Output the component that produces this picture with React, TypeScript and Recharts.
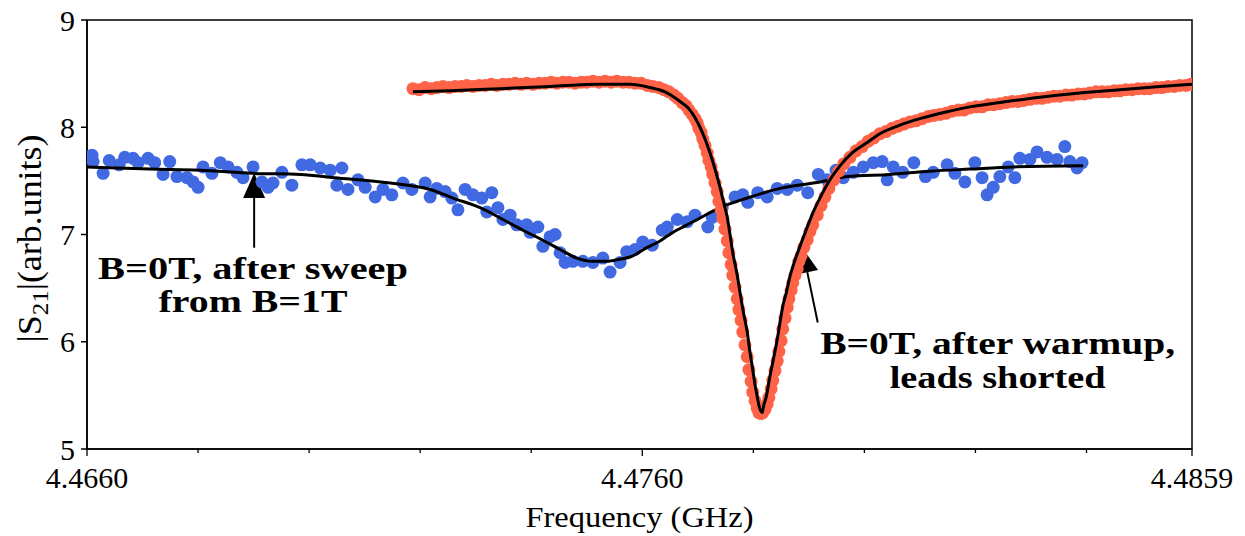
import { ComposedChart, Scatter, XAxis, YAxis, ReferenceArea, ReferenceLine, ReferenceDot } from 'recharts';

const FONT = 'Liberation Serif, DejaVu Serif, serif';

// frequency axis (GHz)
const freqTicks = [4.466, 4.468, 4.47, 4.472, 4.474, 4.476, 4.478, 4.48, 4.482, 4.484, 4.4859];
const freqMajor = [4.466, 4.476, 4.4859];
const freqLabels = ['4.4660', '4.4760', '4.4859'];
const s21Ticks = [5, 6, 7, 8, 9];

// B=0T after sweep from B=1T (blue)
const blueFreq = [
  4.46609, 4.46611, 4.46629, 4.46640, 4.46658, 4.46668, 4.46683, 4.46692, 4.46710, 4.46722,
  4.46737, 4.46749, 4.46762, 4.46780, 4.46791, 4.46800, 4.46809, 4.46825, 4.46840, 4.46854,
  4.46870, 4.46881, 4.46899, 4.46915, 4.46926, 4.46935, 4.46951, 4.46969, 4.46987, 4.47002,
  4.47020, 4.47038, 4.47050, 4.47059, 4.47070, 4.47088, 4.47101, 4.47119, 4.47133, 4.47149,
  4.47169, 4.47185, 4.47209, 4.47218, 4.47230, 4.47245, 4.47257, 4.47268, 4.47281, 4.47295,
  4.47311, 4.47320, 4.47329, 4.47340, 4.47349, 4.47362, 4.47374, 4.47392, 4.47398, 4.47412,
  4.47421, 4.47434, 4.47443, 4.47452, 4.47461, 4.47475, 4.47493, 4.47511, 4.47529, 4.47542,
  4.47560, 4.47572, 4.47587, 4.47601, 4.47618, 4.47636, 4.47645, 4.47663, 4.47681, 4.47695,
  4.47718, 4.47726, 4.47744, 4.47767, 4.47781, 4.47790, 4.47808, 4.47825, 4.47843, 4.47861,
  4.47879, 4.47898, 4.47917, 4.47933, 4.47949, 4.47962, 4.47980, 4.47998, 4.48016, 4.48032,
  4.48041, 4.48052, 4.48069, 4.48089, 4.48110, 4.48124, 4.48149, 4.48163, 4.48181, 4.48199,
  4.48212, 4.48221, 4.48232, 4.48244, 4.48259, 4.48271, 4.48280, 4.48298, 4.48311, 4.48329,
  4.48347, 4.48361, 4.48370, 4.48383, 4.48392,
];
const blueS21 = [
  7.74, 7.68, 7.57, 7.69, 7.65, 7.72, 7.71, 7.67, 7.71, 7.67,
  7.56, 7.68, 7.54, 7.53, 7.49, 7.44, 7.63, 7.57, 7.67, 7.63,
  7.58, 7.53, 7.63, 7.49, 7.44, 7.48, 7.58, 7.46, 7.65, 7.65,
  7.62, 7.60, 7.46, 7.62, 7.42, 7.51, 7.44, 7.35, 7.42, 7.37,
  7.48, 7.42, 7.48, 7.35, 7.43, 7.40, 7.34, 7.23, 7.42, 7.37,
  7.34, 7.21, 7.39, 7.25, 7.14, 7.18, 7.09, 7.09, 7.02, 7.07,
  6.89, 6.98, 7.00, 6.83, 6.74, 6.75, 6.75, 6.74, 6.78, 6.65,
  6.74, 6.84, 6.86, 6.93, 6.90, 7.04, 7.07, 7.14, 7.12, 7.18,
  7.07, 7.16, 7.25, 7.35, 7.37, 7.30, 7.39, 7.35, 7.43, 7.42,
  7.46, 7.39, 7.56, 7.51, 7.60, 7.53, 7.58, 7.63, 7.67, 7.68,
  7.51, 7.63, 7.58, 7.67, 7.54, 7.58, 7.65, 7.57, 7.49, 7.67,
  7.53, 7.37, 7.44, 7.54, 7.63, 7.53, 7.71, 7.70, 7.77, 7.72,
  7.70, 7.82, 7.68, 7.62, 7.67,
];
const blueFitFreq = [
  4.46600, 4.46713, 4.46804, 4.46899, 4.46984, 4.47046, 4.47146, 4.47218, 4.47259, 4.47308,
  4.47349, 4.47385, 4.47416, 4.47452, 4.47482, 4.47509, 4.47536, 4.47560, 4.47578, 4.47609,
  4.47632, 4.47655, 4.47677, 4.47699, 4.47740, 4.47789, 4.47848, 4.47920, 4.47969, 4.48046,
  4.48118, 4.48190, 4.48268, 4.48394,
];
const blueFitS21 = [
  7.63, 7.61, 7.60, 7.57, 7.56, 7.53, 7.48, 7.42, 7.34, 7.25,
  7.14, 7.04, 6.96, 6.86, 6.78, 6.75, 6.75, 6.77, 6.79, 6.88,
  6.94, 7.02, 7.08, 7.14, 7.25, 7.34, 7.43, 7.49, 7.54, 7.56,
  7.59, 7.61, 7.63, 7.64,
];

// B=0T after warmup, leads shorted (red)
const redFreq = [
  4.47187, 4.47198, 4.47209, 4.47220, 4.47230, 4.47241, 4.47252, 4.47263, 4.47274, 4.47284,
  4.47295, 4.47306, 4.47317, 4.47328, 4.47338, 4.47349, 4.47360, 4.47371, 4.47382, 4.47392,
  4.47403, 4.47414, 4.47425, 4.47436, 4.47446, 4.47457, 4.47468, 4.47479, 4.47490, 4.47500,
  4.47511, 4.47522, 4.47533, 4.47544, 4.47554, 4.47565, 4.47576, 4.47587, 4.47598, 4.47609,
  4.47619, 4.47630, 4.47639, 4.47648, 4.47657, 4.47664, 4.47672, 4.47679, 4.47684, 4.47690,
  4.47695, 4.47699, 4.47702, 4.47706, 4.47709, 4.47713, 4.47717, 4.47720, 4.47724, 4.47727,
  4.47731, 4.47735, 4.47738, 4.47742, 4.47745, 4.47749, 4.47753, 4.47756, 4.47760, 4.47763,
  4.47767, 4.47771, 4.47774, 4.47778, 4.47781, 4.47785, 4.47789, 4.47792, 4.47796, 4.47799,
  4.47803, 4.47807, 4.47810, 4.47814, 4.47817, 4.47821, 4.47825, 4.47828, 4.47832, 4.47835,
  4.47839, 4.47843, 4.47846, 4.47850, 4.47853, 4.47857, 4.47861, 4.47864, 4.47868, 4.47871,
  4.47875, 4.47879, 4.47882, 4.47886, 4.47891, 4.47897, 4.47902, 4.47907, 4.47915, 4.47922,
  4.47929, 4.47936, 4.47945, 4.47954, 4.47963, 4.47974, 4.47985, 4.47996, 4.48007, 4.48017,
  4.48028, 4.48039, 4.48050, 4.48061, 4.48071, 4.48082, 4.48093, 4.48104, 4.48115, 4.48125,
  4.48136, 4.48147, 4.48158, 4.48169, 4.48179, 4.48190, 4.48201, 4.48212, 4.48223, 4.48233,
  4.48244, 4.48255, 4.48266, 4.48277, 4.48287, 4.48298, 4.48309, 4.48320, 4.48331, 4.48341,
  4.48352, 4.48363, 4.48374, 4.48385, 4.48396, 4.48406, 4.48417, 4.48428, 4.48439, 4.48450,
  4.48460, 4.48471, 4.48482, 4.48493, 4.48504, 4.48514, 4.48525, 4.48536, 4.48547, 4.48558,
  4.48568, 4.48579, 4.48588,
];
const redS21 = [
  8.36, 8.35, 8.37, 8.36, 8.37, 8.38, 8.37, 8.38, 8.38, 8.39,
  8.38, 8.39, 8.39, 8.40, 8.39, 8.40, 8.40, 8.41, 8.40, 8.41,
  8.40, 8.41, 8.41, 8.42, 8.41, 8.42, 8.42, 8.41, 8.42, 8.42,
  8.43, 8.42, 8.43, 8.42, 8.43, 8.42, 8.42, 8.41, 8.41, 8.39,
  8.38, 8.37, 8.35, 8.33, 8.30, 8.27, 8.23, 8.20, 8.16, 8.12,
  8.08, 8.04, 7.99, 7.95, 7.89, 7.83, 7.76, 7.69, 7.63, 7.56,
  7.48, 7.40, 7.31, 7.23, 7.15, 7.05, 6.94, 6.83, 6.72, 6.62,
  6.51, 6.40, 6.30, 6.20, 6.09, 5.97, 5.86, 5.74, 5.63, 5.53,
  5.45, 5.38, 5.34, 5.33, 5.34, 5.37, 5.42, 5.48, 5.56, 5.64,
  5.73, 5.82, 5.91, 6.01, 6.12, 6.22, 6.32, 6.40, 6.48, 6.55,
  6.62, 6.68, 6.75, 6.80, 6.88, 6.95, 7.03, 7.09, 7.18, 7.27,
  7.35, 7.43, 7.51, 7.59, 7.66, 7.72, 7.78, 7.82, 7.87, 7.90,
  7.94, 7.96, 7.99, 8.01, 8.03, 8.05, 8.06, 8.08, 8.10, 8.11,
  8.12, 8.13, 8.15, 8.16, 8.16, 8.18, 8.19, 8.19, 8.21, 8.21,
  8.22, 8.23, 8.24, 8.24, 8.25, 8.26, 8.27, 8.27, 8.28, 8.29,
  8.29, 8.30, 8.30, 8.31, 8.31, 8.32, 8.33, 8.33, 8.33, 8.34,
  8.34, 8.35, 8.35, 8.36, 8.36, 8.36, 8.37, 8.37, 8.38, 8.38,
  8.39, 8.39, 8.40,
];
const redFitFreq = [
  4.47187, 4.47254, 4.47344, 4.47434, 4.47524, 4.47578, 4.47614, 4.47641, 4.47668, 4.47686,
  4.47704, 4.47713, 4.47722, 4.47731, 4.47740, 4.47747, 4.47753, 4.47758, 4.47763, 4.47771,
  4.47776, 4.47783, 4.47789, 4.47794, 4.47798, 4.47803, 4.47807, 4.47810, 4.47814, 4.47816,
  4.47817, 4.47819, 4.47823, 4.47830, 4.47837, 4.47843, 4.47848, 4.47853, 4.47859, 4.47866,
  4.47875, 4.47884, 4.47895, 4.47907, 4.47922, 4.47938, 4.47956, 4.47978, 4.48003, 4.48028,
  4.48064, 4.48100, 4.48145, 4.48190, 4.48244, 4.48316, 4.48388, 4.48460, 4.48532, 4.48590,
];
const redFitS21 = [
  8.33, 8.34, 8.36, 8.38, 8.40, 8.40, 8.37, 8.33, 8.24, 8.16,
  8.00, 7.89, 7.76, 7.61, 7.44, 7.29, 7.16, 7.00, 6.83, 6.62,
  6.46, 6.25, 6.09, 5.90, 5.77, 5.60, 5.49, 5.41, 5.35, 5.34,
  5.36, 5.41, 5.48, 5.68, 5.86, 6.02, 6.18, 6.33, 6.45, 6.61,
  6.76, 6.89, 7.04, 7.20, 7.36, 7.51, 7.64, 7.76, 7.85, 7.94,
  8.02, 8.08, 8.14, 8.19, 8.23, 8.28, 8.32, 8.35, 8.38, 8.40,
];

// annotations
const notes = [
  { text: 'B=0T, after sweep', f: 4.46899, v: 6.589, w: 310 },
  { text: 'from B=1T', f: 4.46899, v: 6.273, w: 189 },
  { text: 'B=0T, after warmup,', f: 4.4824, v: 5.883, w: 355 },
  { text: 'leads shorted', f: 4.4824, v: 5.567, w: 216 },
];
const arrows = [
  { from: { x: 4.46901, y: 6.877 }, to: { x: 4.46901, y: 7.574 } },
  { from: { x: 4.47916, y: 6.18 }, to: { x: 4.47888, y: 6.877 } },
];

const pair = (fs: number[], vs: number[]) => fs.map((f, i) => ({ f, v: vs[i] }));
const blue = pair(blueFreq, blueS21);
const blueFit = pair(blueFitFreq, blueFitS21);
const red = pair(redFreq, redS21);
const redFit = pair(redFitFreq, redFitS21);

const FreqTick = (props: any) => {
  const { x, y, payload } = props;
  const idx = freqMajor.findIndex((m) => Math.abs(m - payload.value) < 1e-7);
  const major = idx >= 0;
  return (
    <g>
      <line x1={x} y1={y} x2={x} y2={y + (major ? 7 : 4)} stroke="#000" strokeWidth={1.3} />
      {major && (
        <text x={x} y={y + 39} textAnchor="middle" style={{ fontFamily: FONT }} fontSize={30} fill="#000">
          {freqLabels[idx]}
        </text>
      )}
    </g>
  );
};

const Arrow = (props: any) => {
  const { x1, y1, x2, y2 } = props;
  const dx = x2 - x1;
  const dy = y2 - y1;
  const len = Math.hypot(dx, dy) || 1;
  const ux = dx / len;
  const uy = dy / len;
  const hl = 25;
  const hw = 11;
  const bx = x2 - ux * hl;
  const by = y2 - uy * hl;
  return (
    <g>
      <line x1={x1} y1={y1} x2={bx} y2={by} stroke="#000" strokeWidth={2} />
      <polygon
        points={`${x2},${y2} ${bx - uy * hw},${by + ux * hw} ${bx + uy * hw},${by - ux * hw}`}
        fill="#000"
      />
    </g>
  );
};

const dot = (color: string, r: number) => (p: any) => <circle cx={p.cx} cy={p.cy} r={r} fill={color} />;
const noDot = () => <g />;

export default function App() {
  return (
    <div style={{ position: 'absolute', left: 0, top: 0, background: '#fff', fontFamily: FONT }}>
      <ComposedChart width={1245} height={536} margin={{ top: 20, right: 53, bottom: 0, left: 0 }} style={{ fontFamily: FONT }}>
        <XAxis
          type="number"
          dataKey="f"
          domain={[4.466, 4.4859]}
          allowDataOverflow
          ticks={freqTicks}
          interval={0}
          tickSize={0}
          tickMargin={0}
          tick={<FreqTick />}
          height={87}
          stroke="#000"
          strokeWidth={1.5}
          label={{
            content: (p: any) => {
              const vb = p.viewBox;
              return (
                <text x={vb.x + vb.width / 2} y={vb.y + 78} textAnchor="middle" style={{ fontFamily: FONT }} fontSize={30} fill="#000" textLength={228} lengthAdjust="spacingAndGlyphs">
                  Frequency (GHz)
                </text>
              );
            },
          }}
        />
        <YAxis
          type="number"
          dataKey="v"
          domain={[5, 9]}
          allowDataOverflow
          ticks={s21Ticks}
          interval={0}
          width={87}
          tickSize={6}
          tickMargin={6}
          stroke="#000"
          strokeWidth={1.5}
          tick={{ fontSize: 30, fill: '#000', style: { fontFamily: FONT } }}
          label={{
            content: (p: any) => {
              const vb = p.viewBox;
              const cx = vb.x + 41;
              const cy = vb.y + vb.height / 2 + 4;
              return (
                <text transform={`translate(${cx},${cy}) rotate(-90)`} textAnchor="middle" style={{ fontFamily: FONT }} fontSize={33} fill="#000" textLength={208} lengthAdjust="spacingAndGlyphs">
                  |S<tspan fontSize={23} dy={7}>21</tspan>
                  <tspan dy={-7}>|(arb.units)</tspan>
                </text>
              );
            },
          }}
        />
        <ReferenceArea x1={4.466} x2={4.4859} y1={5} y2={9} fill="none" fillOpacity={0} stroke="#000" strokeWidth={1.5} />
        <Scatter data={blue} fill="#4169E1" shape={dot('#4169E1', 6.5)} isAnimationActive={false} />
        <Scatter
          data={blueFit}
          line={{ stroke: '#000', strokeWidth: 3 }}
          lineJointType="monotoneX"
          shape={noDot}
          isAnimationActive={false}
        />
        <Scatter data={red} fill="#FF6347" shape={dot('#FF6347', 6.5)} isAnimationActive={false} />
        <Scatter
          data={redFit}
          line={{ stroke: '#000', strokeWidth: 3 }}
          lineJointType="monotoneX"
          shape={noDot}
          isAnimationActive={false}
        />
        {arrows.map((a, i) => (
          <ReferenceLine key={'a' + i} segment={[a.from, a.to]} shape={(p: any) => <Arrow {...p} />} />
        ))}
        {notes.map((n, i) => (
          <ReferenceDot
            key={'n' + i}
            x={n.f}
            y={n.v}
            r={0}
            shape={(p: any) => (
              <text x={p.cx} y={p.cy} textAnchor="middle" style={{ fontFamily: FONT }} fontWeight="bold" fontSize={31} fill="#000" textLength={n.w} lengthAdjust="spacingAndGlyphs">
                {n.text}
              </text>
            )}
          />
        ))}
      </ComposedChart>
    </div>
  );
}
